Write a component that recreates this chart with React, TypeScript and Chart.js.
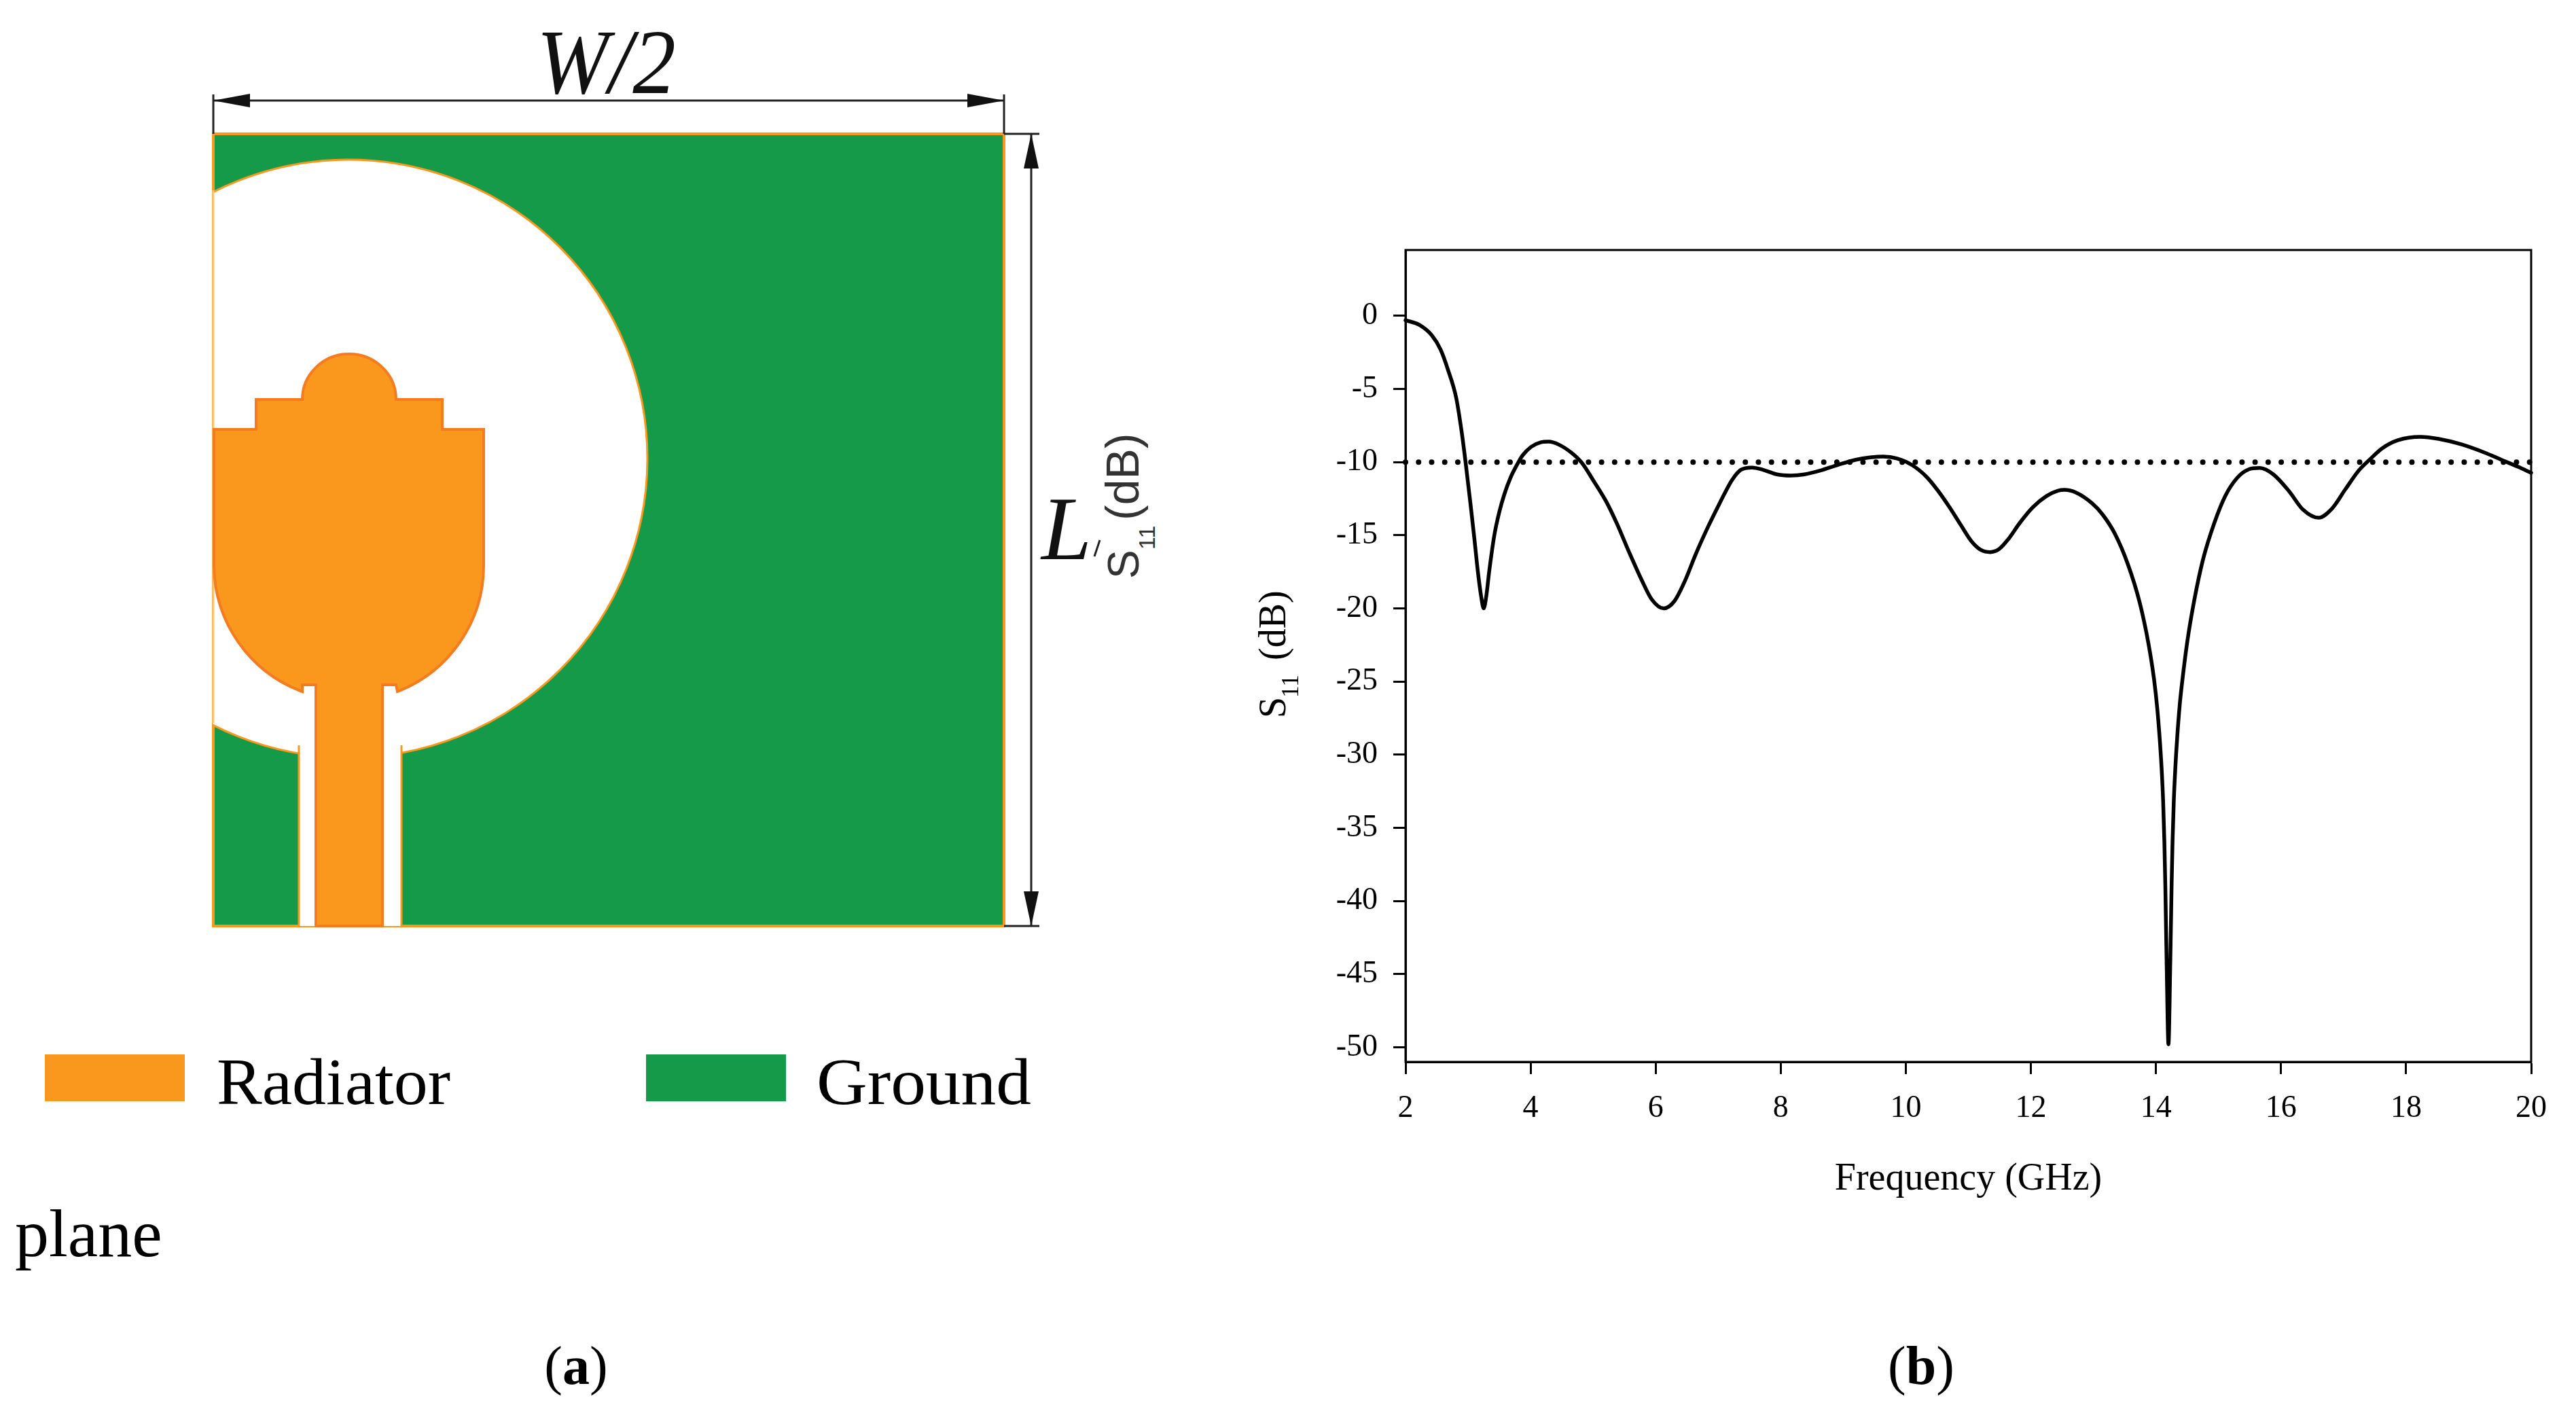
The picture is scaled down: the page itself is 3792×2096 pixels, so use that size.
import { useEffect, useRef } from "react"
import { Chart, registerables } from "chart.js"

Chart.register(...registerables)

// values
const frequency = [
  2, 2.22, 2.42, 2.56, 2.68, 2.81, 2.9, 2.96, 3.04, 3.1,
  3.16, 3.21, 3.25, 3.29, 3.34, 3.42, 3.5, 3.58, 3.68, 3.8,
  3.87, 4.01, 4.16, 4.29, 4.45, 4.65, 4.82, 5.01, 5.21, 5.38,
  5.57, 5.77, 5.94, 6.13, 6.3, 6.47, 6.64, 6.84, 7.03, 7.11,
  7.22, 7.36, 7.54, 7.72, 7.94, 8.16, 8.38, 8.63, 8.92, 9.2,
  9.43, 9.64, 9.86, 10.1, 10.33, 10.51, 10.7, 10.88, 11.05, 11.2,
  11.35, 11.49, 11.64, 11.82, 12.03, 12.25, 12.43, 12.54, 12.72, 12.98,
  13.15, 13.34, 13.55, 13.74, 13.88, 13.97, 14.02, 14.06, 14.09, 14.115,
  14.135, 14.15, 14.17, 14.2, 14.23, 14.25, 14.265, 14.285, 14.31, 14.34,
  14.38, 14.42, 14.5, 14.61, 14.75, 14.93, 15.11, 15.3, 15.48, 15.66,
  15.88, 16.13, 16.35, 16.6, 16.82, 17.03, 17.25, 17.4, 17.62, 17.87,
  18.23, 18.52, 18.88, 19.25, 19.53, 19.79, 20,
]
const s11 = [
  -0.3, -0.62, -1.33, -2.3, -3.7, -5.6, -8, -10, -12.9, -15.2,
  -17.6, -19.2, -20, -19.2, -17.4, -15, -13.4, -12.2, -11.05, -10.05,
  -9.55, -8.95, -8.65, -8.6, -8.8, -9.35, -10.05, -11.3, -12.7, -14.2,
  -16.1, -18, -19.4, -20, -19.5, -18.1, -16.3, -14.4, -12.75, -12.08,
  -11.23, -10.53, -10.37, -10.53, -10.84, -10.92, -10.84, -10.58, -10.18, -9.84,
  -9.68, -9.62, -9.75, -10.2, -11, -11.93, -13.09, -14.3, -15.41, -16,
  -16.15, -15.95, -15.26, -14.17, -13.09, -12.32, -11.96, -11.9, -12.08, -12.82,
  -13.6, -14.87, -16.97, -19.6, -22.4, -24.86, -26.8, -28.9, -30.9, -33.2,
  -36, -39, -44, -49.8, -44, -39, -36, -33.2, -30.9, -28.8,
  -26.6, -25, -22.3, -19.5, -16.7, -14.2, -12.3, -11.07, -10.5, -10.4,
  -10.85, -12, -13.24, -13.8, -13.15, -11.85, -10.54, -9.9, -9.05, -8.5,
  -8.27, -8.41, -8.78, -9.34, -9.85, -10.32, -10.73,
]
const thresholdFrequency = [2, 20]
const thresholdValue = [-10, -10]
const xTicks = [2, 4, 6, 8, 10, 12, 14, 16, 18, 20]
const yTicks = [0, -5, -10, -15, -20, -25, -30, -35, -40, -45, -50]

const serif = '"Liberation Serif"'
const orange = "#FA981E"
const green = "#159A4A"

// box around the plot and the y title with its subscript
const framePlugin = {
  id: "frame",
  afterDraw(chart: Chart) {
    const { ctx, chartArea } = chart
    ctx.save()
    ctx.strokeStyle = "#000"
    ctx.lineWidth = 3
    ctx.strokeRect(chartArea.left, chartArea.top, chartArea.width, chartArea.height)

    ctx.translate(1892, 1057)
    ctx.rotate(-Math.PI / 2)
    ctx.fillStyle = "#000"
    ctx.textBaseline = "alphabetic"
    ctx.font = `56px ${serif}`
    ctx.fillText("S", 0, 0)
    ctx.fillText("(dB)", 85, 0)
    ctx.font = `35px ${serif}`
    ctx.fillText("11", 30, 19)
    ctx.restore()
  },
}

function S11Chart() {
  const chartRef = useRef<HTMLCanvasElement>(null)

  useEffect(() => {
    if (!chartRef.current) return

    const chart = new Chart(chartRef.current, {
      type: "line",
      data: {
        datasets: [
          {
            label: "-10 dB",
            data: thresholdFrequency.map((x, i) => ({ x, y: thresholdValue[i] })),
            borderColor: "#000",
            borderWidth: 8,
            borderDash: [0.01, 19.23],
            borderCapStyle: "round",
            pointRadius: 0,
            clip: false,
          },
          {
            label: "S11",
            data: frequency.map((x, i) => ({ x, y: s11[i] })),
            borderColor: "#000",
            borderWidth: 5.5,
            borderCapStyle: "round",
            borderJoinStyle: "round",
            cubicInterpolationMode: "monotone",
            pointRadius: 0,
            clip: false,
          },
        ],
      },
      options: {
        responsive: false,
        devicePixelRatio: 1,
        animation: false,
        events: [],
        layout: { padding: { left: 0, top: 368, right: 66, bottom: 326 } },
        plugins: {
          legend: { display: false },
          tooltip: { enabled: false },
        },
        scales: {
          x: {
            type: "linear",
            min: 2,
            max: 20,
            afterBuildTicks: (axis) => {
              axis.ticks = xTicks.map((value) => ({ value }))
            },
            afterFit: (axis) => {
              axis.height = 207
            },
            grid: { drawOnChartArea: false, tickLength: 18, tickWidth: 3, tickColor: "#000" },
            border: { color: "#000", width: 3 },
            ticks: {
              color: "#000",
              padding: 23,
              maxRotation: 0,
              autoSkip: false,
              font: { family: serif, size: 46 },
            },
            title: {
              display: true,
              text: "Frequency (GHz)",
              color: "#000",
              padding: 0,
              font: { family: serif, size: 56 },
            },
          },
          y: {
            type: "linear",
            min: -51,
            max: 4.5,
            afterBuildTicks: (axis) => {
              axis.ticks = yTicks.map((value) => ({ value }))
            },
            afterFit: (axis) => {
              axis.width = 2069
            },
            grid: { drawOnChartArea: false, tickLength: 18, tickWidth: 3, tickColor: "#000" },
            border: { color: "#000", width: 3 },
            ticks: {
              color: "#000",
              padding: 23,
              autoSkip: false,
              font: { family: serif, size: 46 },
            },
          },
        },
      },
      plugins: [framePlugin],
    })

    return () => chart.destroy()
  }, [])

  return <canvas ref={chartRef} width={3792} height={2096} style={{ position: "absolute", left: 0, top: 0 }} />
}

// antenna layout and the captions around the chart
function Layout() {
  const radiator =
    "M315 632 H377 V588 H445 A69 67 0 0 1 583 588 H651 V632 H712 V833 A199 199 0 0 1 585 1018 L583 1008 H563 V1363 H465 V1008 H445 L445 1018 A199 199 0 0 1 315 833 Z"
  return (
    <svg width={3792} height={2096} style={{ position: "absolute", left: 0, top: 0 }} fontFamily={serif}>
      <defs>
        <clipPath id="board">
          <rect x={313} y={197} width={1165} height={1166} />
        </clipPath>
      </defs>

      <rect x={314} y={197} width={1164} height={1166} fill={green} stroke={orange} strokeWidth={4} />
      <g clipPath="url(#board)">
        <circle cx={513} cy={675} r={440} fill="#fff" stroke={orange} strokeWidth={3} />
        <rect x={440} y={1080} width={151} height={290} fill="#fff" />
        <path d="M440 1097 V1363 M591 1097 V1363" stroke={orange} strokeWidth={3} fill="none" />
      </g>
      <path d="M314 280 V1064" stroke="#FBC77F" strokeWidth={3} fill="none" />
      <path d={radiator} fill={orange} stroke="#F47B20" strokeWidth={4} />

      <g stroke="#222" strokeWidth={3} fill="none">
        <path d="M314 139 V197 M1478 139 V197 M314 148 H1478" />
        <path d="M1478 197 H1530 M1478 1363 H1530 M1518 197 V1363" />
        <path d="M1611 819 L1619 795" />
      </g>
      <g fill="#111">
        <path d="M314 148 L368 138 V158 Z M1478 148 L1424 138 V158 Z" />
        <path d="M1518 197 L1507 248 H1529 Z M1518 1363 L1507 1312 H1529 Z" />
      </g>

      <text x={790} y={137} fontSize={135} fontStyle="italic" textLength={205} lengthAdjust="spacingAndGlyphs" fill="#111">
        W/2
      </text>
      <text x={1533} y={823} fontSize={133} fontStyle="italic" fill="#111">
        L
      </text>
      <g transform="translate(1676 852) rotate(-90)" fontFamily='"Liberation Sans"' fill="#333">
        <text x={0} y={0} fontSize={64}>S</text>
        <text x={43} y={24} fontSize={34}>11</text>
        <text x={86} y={0} fontSize={68}>(dB)</text>
      </g>

      <rect x={66} y={1552} width={206} height={69} fill={orange} />
      <text x={319} y={1625} fontSize={98} textLength={344} lengthAdjust="spacingAndGlyphs">Radiator</text>
      <rect x={951} y={1552} width={206} height={69} fill={green} />
      <text x={1202} y={1625} fontSize={98} textLength={316} lengthAdjust="spacingAndGlyphs">Ground</text>
      <text x={22} y={1849} fontSize={100}>plane</text>

      <text x={848} y={2037} fontSize={80} textAnchor="middle">
        (<tspan fontWeight="bold">a</tspan>)
      </text>
      <text x={2828} y={2037} fontSize={80} textAnchor="middle">
        (<tspan fontWeight="bold">b</tspan>)
      </text>
    </svg>
  )
}

export default function App() {
  useEffect(() => {
    document.body.style.margin = "0"
    document.body.style.background = "#fff"
  }, [])

  return (
    <div style={{ position: "relative", width: 3792, height: 2096, overflow: "hidden" }}>
      <Layout />
      <S11Chart />
    </div>
  )
}
